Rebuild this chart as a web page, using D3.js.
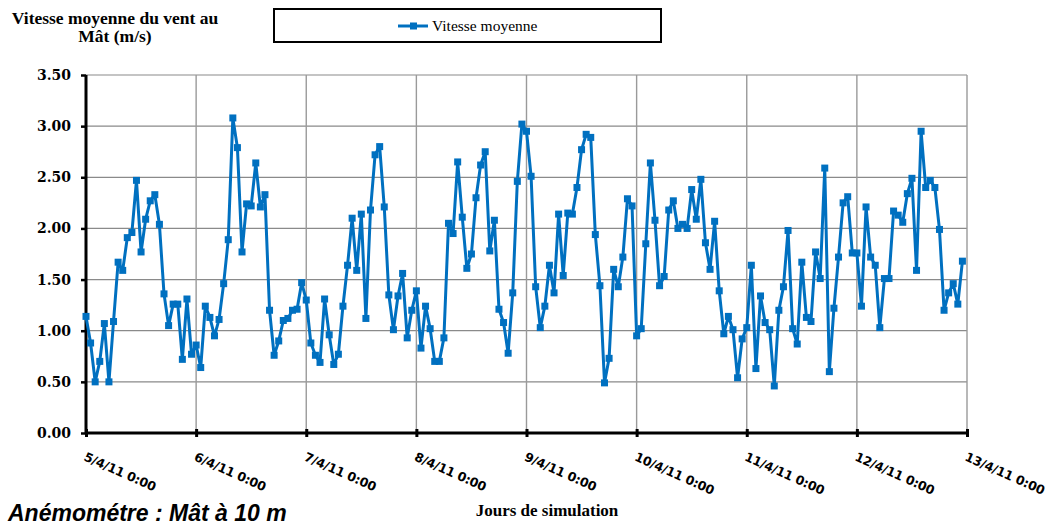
<!DOCTYPE html>
<html>
<head>
    <meta charset="utf-8">
    <title>Vitesse moyenne du vent</title>
    <script src="https://cdn.jsdelivr.net/npm/d3@7/dist/d3.min.js"></script>
    <style>
        body { margin: 0; background: #fff; }
        text { fill: #000; }
    </style>
</head>
<body>
    <svg width="1058" height="526" id="mainsvg"></svg>
    <script>
        // hourly wind speed (m/s), 5/4/11 0:00 -> 12/4/11 23:00
        const speeds = [
            1.14, 0.88, 0.50, 0.70, 1.07, 0.50, 1.09, 1.67, 1.59, 1.91, 1.96, 2.47,
            1.77, 2.09, 2.27, 2.33, 2.04, 1.36, 1.05, 1.26, 1.26, 0.72, 1.31, 0.77,
            0.86, 0.64, 1.24, 1.13, 0.95, 1.11, 1.46, 1.89, 3.08, 2.79, 1.77, 2.24,
            2.22, 2.64, 2.21, 2.33, 1.20, 0.76, 0.90, 1.10, 1.12, 1.20, 1.21, 1.47,
            1.30, 0.88, 0.76, 0.69, 1.31, 0.96, 0.67, 0.77, 1.24, 1.64, 2.10, 1.59,
            2.14, 1.12, 2.18, 2.72, 2.80, 2.21, 1.35, 1.01, 1.34, 1.56, 0.93, 1.20,
            1.39, 0.83, 1.24, 1.02, 0.70, 0.70, 0.93, 2.05, 1.95, 2.65, 2.11, 1.61,
            1.75, 2.30, 2.62, 2.75, 1.78, 2.08, 1.21, 1.08, 0.78, 1.37, 2.46, 3.02,
            2.95, 2.51, 1.43, 1.03, 1.24, 1.64, 1.37, 2.14, 1.54, 2.15, 2.14, 2.40,
            2.77, 2.92, 2.89, 1.94, 1.44, 0.49, 0.73, 1.60, 1.43, 1.72, 2.29, 2.22,
            0.95, 1.02, 1.85, 2.64, 2.08, 1.44, 1.53, 2.18, 2.27, 2.00, 2.04, 2.00,
            2.38, 2.09, 2.48, 1.86, 1.60, 2.07, 1.39, 0.97, 1.14, 1.01, 0.54, 0.92,
            1.03, 1.64, 0.63, 1.34, 1.08, 1.01, 0.46, 1.20, 1.43, 1.98, 1.02, 0.87,
            1.67, 1.13, 1.09, 1.77, 1.51, 2.59, 0.60, 1.22, 1.72, 2.25, 2.31, 1.76,
            1.76, 1.24, 2.21, 1.72, 1.64, 1.03, 1.51, 1.51, 2.17, 2.13, 2.06, 2.34,
            2.49, 1.59, 2.95, 2.40, 2.47, 2.40, 1.99, 1.20, 1.37, 1.46, 1.26, 1.68
        ];
        const startDate = new Date(2011, 3, 5, 0, 0);
        const endDate = new Date(2011, 3, 13, 0, 0);
        const yTicks = [0, 0.5, 1, 1.5, 2, 2.5, 3, 3.5];

        const data = speeds.map((v, i) => ({ t: d3.timeHour.offset(startDate, i), v: v }));

        const svg = d3.select('#mainsvg');
        const blue = '#0070C0';
        const plotL = 86, plotR = 967, plotT = 75, plotB = 433;

        const x = d3.scaleTime().domain([startDate, endDate]).range([plotL, plotR]);
        const y = d3.scaleLinear().domain([0, 3.5]).range([plotB, plotT]);
        const days = d3.timeDay.range(startDate, d3.timeDay.offset(endDate, 1));

        // grid
        svg.append('g')
            .selectAll('line')
            .data(yTicks.filter(d => d > 0))
            .join('line')
            .attr('x1', plotL).attr('x2', plotR)
            .attr('y1', d => y(d)).attr('y2', d => y(d))
            .attr('stroke', '#8a8a8a').attr('stroke-width', 1.2);
        svg.append('g')
            .selectAll('line')
            .data(days.slice(1))
            .join('line')
            .attr('x1', d => x(d)).attr('x2', d => x(d))
            .attr('y1', plotT).attr('y2', plotB)
            .attr('stroke', '#9a9a9a').attr('stroke-width', 1.4);

        // y axis
        const yAxis = svg.append('g')
            .attr('transform', `translate(${plotL},0)`)
            .call(d3.axisLeft(y).tickValues(yTicks).tickFormat(d3.format('.2f')).tickSize(5).tickPadding(10));
        yAxis.select('.domain').attr('stroke', '#000').attr('stroke-width', 3).attr('d', `M0,${plotT}V${plotB}`);
        yAxis.selectAll('.tick line').attr('stroke', '#000').attr('stroke-width', 2.5);
        yAxis.selectAll('.tick text')
            .attr('font-family', '"DejaVu Serif", serif')
            .attr('font-weight', 'bold')
            .attr('font-size', 14);

        // x axis
        const xAxis = svg.append('g')
            .attr('transform', `translate(0,${plotB})`)
            .call(d3.axisBottom(x).tickValues(days).tickSize(0).tickFormat(''));
        xAxis.select('.domain').attr('stroke', '#000').attr('stroke-width', 3).attr('d', `M${plotL},0H${plotR}`);
        xAxis.selectAll('.tick').append('line')
            .attr('y1', -4).attr('y2', 4)
            .attr('stroke', '#000').attr('stroke-width', 3);

        const fmt = d3.timeFormat('%-d/%-m/%y %-H:%M');
        svg.append('g')
            .selectAll('text')
            .data(days)
            .join('text')
            .attr('transform', d => `translate(${x(d) - 3},460) rotate(24)`)
            .attr('font-family', '"DejaVu Sans", sans-serif')
            .attr('font-weight', 'bold')
            .attr('font-size', 12.5)
            .attr('letter-spacing', -0.2)
            .text(d => fmt(d));

        // series
        const line = d3.line().x(d => x(d.t)).y(d => y(d.v));
        svg.append('path')
            .datum(data)
            .attr('fill', 'none')
            .attr('stroke', blue)
            .attr('stroke-width', 3)
            .attr('stroke-linejoin', 'round')
            .attr('d', line);
        svg.append('g')
            .selectAll('rect')
            .data(data)
            .join('rect')
            .attr('x', d => x(d.t) - 3.5)
            .attr('y', d => y(d.v) - 3.5)
            .attr('width', 7).attr('height', 7)
            .attr('fill', blue);

        // legend
        const lg = svg.append('g');
        lg.append('rect')
            .attr('x', 274).attr('y', 9).attr('width', 387).attr('height', 33)
            .attr('fill', '#fff').attr('stroke', '#000').attr('stroke-width', 2);
        lg.append('line')
            .attr('x1', 398).attr('x2', 428).attr('y1', 26).attr('y2', 26)
            .attr('stroke', blue).attr('stroke-width', 3);
        lg.append('rect')
            .attr('x', 410).attr('y', 22.5).attr('width', 7).attr('height', 7)
            .attr('fill', blue);
        lg.append('text')
            .attr('x', 432).attr('y', 31)
            .attr('font-family', '"Liberation Serif", serif')
            .attr('font-size', 15.5)
            .text('Vitesse moyenne');

        // titles
        const title = svg.append('text')
            .attr('text-anchor', 'middle')
            .attr('font-family', '"Liberation Serif", serif')
            .attr('font-weight', 'bold')
            .attr('font-size', 17.5);
        title.append('tspan').attr('x', 115).attr('y', 24).text('Vitesse moyenne du vent au');
        title.append('tspan').attr('x', 115).attr('y', 42).text('Mât (m/s)');

        svg.append('text')
            .attr('x', 547).attr('y', 516)
            .attr('text-anchor', 'middle')
            .attr('font-family', '"Liberation Serif", serif')
            .attr('font-weight', 'bold')
            .attr('font-size', 17)
            .text('Jours de simulation');

        svg.append('text')
            .attr('x', 8).attr('y', 521)
            .attr('font-family', '"Liberation Sans Narrow", "Liberation Sans", sans-serif')
            .attr('font-weight', 'bold')
            .attr('font-style', 'italic')
            .attr('font-size', 23)
            .text('Anémométre : Mât à 10 m');
    </script>
</body>
</html>
